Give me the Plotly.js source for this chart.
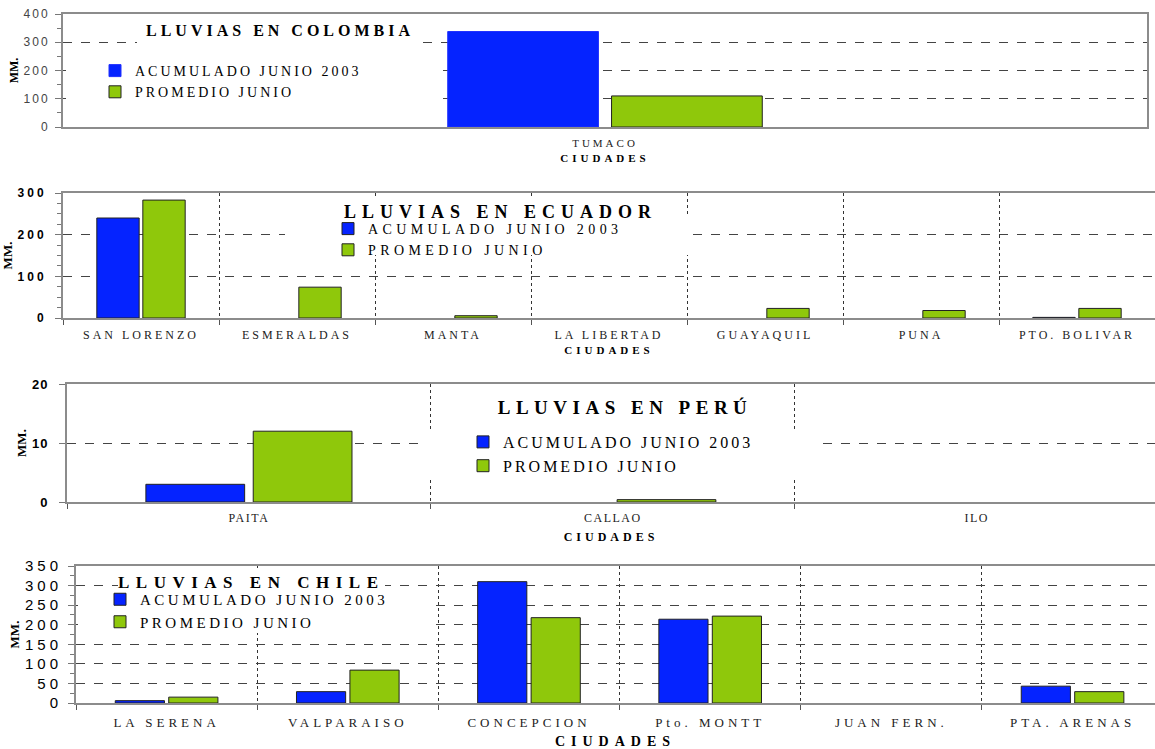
<!DOCTYPE html>
<html><head><meta charset="utf-8">
<script src="https://cdn.plot.ly/plotly-3.0.1.min.js"></script>
<style>
html,body{margin:0;padding:0;background:#fff;overflow:hidden}
#chart{width:1155px;height:749px}
.annotation[data-index="0"] .annotation-text{letter-spacing:4px}
.annotation[data-index="1"] .annotation-text{letter-spacing:6px}
.annotation[data-index="2"] .annotation-text{letter-spacing:5.5px}
.annotation[data-index="3"] .annotation-text{letter-spacing:6.5px}
.xtick text{letter-spacing:3px}
.x2tick text{letter-spacing:3px}
.x3tick text{letter-spacing:1.5px}
.x4tick text{letter-spacing:4px}
.xtitle{letter-spacing:4px}
.x2title{letter-spacing:4px}
.x3title{letter-spacing:4px}
.x4title{letter-spacing:6px}
.ytick text{letter-spacing:2px}
.y2tick text{letter-spacing:3px}
.y3tick text{letter-spacing:1px}
.y4tick text{letter-spacing:4px}
</style></head><body><div id="chart"></div>
<script>
// ---- data ----
const seriesNames = ['ACUMULADO JUNIO 2003', 'PROMEDIO JUNIO'];
const panelTitles = ['LLUVIAS EN COLOMBIA', 'LLUVIAS EN ECUADOR', 'LLUVIAS EN PERÚ', 'LLUVIAS EN CHILE'];
const xTitle = 'CIUDADES';
const yTitle = 'MM.';

const colCities = ['TUMACO'];
const colAcum = [338];
const colProm = [110];

const ecuCities = ['SAN LORENZO', 'ESMERALDAS', 'MANTA', 'LA LIBERTAD', 'GUAYAQUIL', 'PUNA', 'PTO. BOLIVAR'];
const ecuAcum = [240, 0, 0, 0, 0, 0, 1.5];
const ecuProm = [283, 74, 5.5, 0, 23, 18, 23];

const peruCities = ['PAITA', 'CALLAO', 'ILO'];
const peruAcum = [3, 0, 0];
const peruProm = [12, 0.4, 0];

const chileCities = ['LA SERENA', 'VALPARAISO', 'CONCEPCION', 'Pto. MONTT', 'JUAN FERN.', 'PTA. ARENAS'];
const chileAcum = [6, 29, 310, 214, 0, 43];
const chileProm = [15, 84, 218, 222, 0, 29];

// ---- styling ----
const W = 1155, H = 749;
const BLUE = '#0523ff', GREEN = '#8fc80b';
const SERIF = 'Liberation Serif, Times New Roman, serif';
const SANS = 'Liberation Sans, Arial, sans-serif';
const px = v => v / W;
const py = v => 1 - v / H;
const outline = vals => vals.map(v => (v > 0 ? 1 : 0));

function pair(cats, a, p, xa, ya, lg, blueLine) {
  return [
    {type: 'bar', name: seriesNames[0], x: cats, y: a, xaxis: xa, yaxis: ya, legend: lg,
     marker: {color: BLUE, line: {color: blueLine || '#222', width: outline(a)}}, hoverinfo: 'x+y+name'},
    {type: 'bar', name: seriesNames[1], x: cats, y: p, xaxis: xa, yaxis: ya, legend: lg,
     marker: {color: GREEN, line: {color: '#222', width: outline(p)}}, hoverinfo: 'x+y+name'}
  ];
}

const data = [].concat(
  pair(colCities, colAcum, colProm, 'x', 'y', 'legend', '#2030ff'),
  pair(ecuCities, ecuAcum, ecuProm, 'x2', 'y2', 'legend2'),
  pair(peruCities, peruAcum, peruProm, 'x3', 'y3', 'legend3'),
  pair(chileCities, chileAcum, chileProm, 'x4', 'y4', 'legend4')
);

function xax(d, anchor, range, grid, tickfs, titlefs, standoff, lblOff) {
  return {
    domain: d, anchor: anchor, type: 'category', range: range,
    showline: true, mirror: true, linecolor: '#8c8c8c', linewidth: 2,
    showgrid: grid, gridcolor: '#333', griddash: 'dot', gridwidth: 1,
    tickson: 'boundaries', ticks: grid ? 'outside' : '', ticklen: 5, tickcolor: '#555',
    ticklabelstandoff: lblOff,
    tickfont: {family: SERIF, size: tickfs, color: '#222'},
    title: {text: xTitle, font: {family: SERIF, size: titlefs, weight: 'bold', color: '#000'}, standoff: standoff},
    zeroline: false, fixedrange: true
  };
}
function yax(d, anchor, range, dtick, minorDtick, mirror, tickfont, standoff, titlefs) {
  const ax = {
    domain: d, anchor: anchor, range: range, dtick: dtick,
    showline: true, mirror: mirror, linecolor: '#8c8c8c', linewidth: 2,
    showgrid: true, gridcolor: '#444', griddash: 'dash', gridwidth: 1,
    ticks: 'outside', ticklen: 6, tickcolor: '#777',
    tickfont: tickfont, ticklabelstandoff: standoff,
    title: {text: yTitle, font: {family: SERIF, size: titlefs, weight: 'bold', color: '#000'}, standoff: 2},
    zeroline: false, fixedrange: true
  };
  if (minorDtick) ax.minor = {ticks: 'outside', ticklen: 4, dtick: minorDtick, tickcolor: '#777', showgrid: false};
  return ax;
}

function leg(x, y, fs) {
  return {x: px(x), y: py(y), xanchor: 'left', yanchor: 'top', bgcolor: 'rgba(0,0,0,0)',
          borderwidth: 0, font: {family: SERIF, size: fs, color: '#000'}, tracegroupgap: 0, itemclick: false};
}
function title(text, x, y, fs) {
  return {text: text, x: px(x), y: py(y), xref: 'paper', yref: 'paper', xanchor: 'center', yanchor: 'middle',
          showarrow: false, font: {family: SERIF, size: fs, weight: 'bold', color: '#000'}};
}
function cover(x0, y0, x1, y1) {
  return {type: 'rect', xref: 'paper', yref: 'paper', x0: px(x0), x1: px(x1), y0: py(y1), y1: py(y0),
          fillcolor: '#fff', line: {width: 0}, layer: 'above'};
}

const layout = {
  width: W, height: H, margin: {l: 0, r: 0, t: 0, b: 0},
  paper_bgcolor: '#fff', plot_bgcolor: '#fff',
  barmode: 'group', bargap: 0.41, bargroupgap: 0.08,
  showlegend: true,
  xaxis: xax([px(63), px(1147)], 'y', [-0.976, 0.976], false, 11, 11, 6, 5),
  yaxis: yax([py(127), py(14)], 'x', [0, 400], 100, 50, true, {family: SANS, size: 12, color: '#444'}, 3, 12),
  xaxis2: xax([px(63), px(1155)], 'y2', [-0.5, 6.5], true, 12, 11, 5, 5),
  yaxis2: yax([py(318), py(193)], 'x2', [0, 300], 100, 25, true, {family: SANS, size: 12, color: '#000', weight: 'bold'}, 6, 13),
  xaxis3: xax([px(67), px(1155)], 'y3', [-0.5, 2.49], true, 12, 12, 8, 4),
  yaxis3: yax([py(502), py(384)], 'x3', [0, 20], 10, null, false, {family: SANS, size: 13, color: '#000', weight: 'bold'}, 8, 13),
  xaxis4: xax([px(76), px(1155)], 'y4', [-0.5, 5.455], true, 13, 14, 10, 6),
  yaxis4: yax([py(703), py(566)], 'x4', [0, 350], 50, 25, false, {family: SANS, size: 15, color: '#000'}, 3, 13),
  legend: leg(95, 55, 14),
  legend2: leg(328, 213, 14),
  legend3: leg(463, 425, 16),
  legend4: leg(100, 583, 15),
  annotations: [
    title(panelTitles[0], 280, 30, 16),
    title(panelTitles[1], 501, 212, 18),
    title(panelTitles[2], 625, 407, 19),
    title(panelTitles[3], 251, 582, 17)
  ],
  shapes: [
    cover(137, 17, 418, 48), cover(66, 55, 443, 112),
    cover(285, 198, 665, 217), cover(285, 217, 690, 255),
    cover(418, 429, 820, 478),
    cover(118, 568, 385, 593), cover(78, 593, 433, 633)
  ]
};

// letter spacing of legend texts, one value per legend in drawing order
const legendSpacing = [3, 4.4, 3, 3.5];

function spaceLegends(gd) {
  const texts = Array.from(gd.querySelectorAll('text'))
    .filter(t => seriesNames.includes(t.textContent) && !t.closest('.annotation'));
  texts.forEach((t, i) => {
    let k = Math.floor(i / 2);
    for (let j = 4; j >= 2; j--) { if (t.closest('g.legend' + j)) { k = j - 1; break; } }
    t.style.letterSpacing = (legendSpacing[k] || 3) + 'px';
  });
  gd.querySelectorAll('.scrollbox').forEach(el => el.removeAttribute('clip-path'));
}

Plotly.newPlot('chart', data, layout, {displayModeBar: false, responsive: false}).then(gd => {
  spaceLegends(gd);
  setTimeout(() => spaceLegends(gd), 50);
});
</script></body></html>
